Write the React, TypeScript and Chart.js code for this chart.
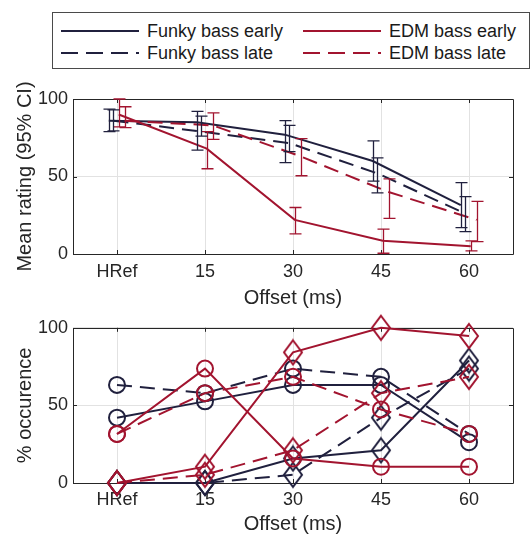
import React, { useEffect, useRef } from 'react';
import { Chart, registerables } from 'chart.js';

Chart.register(...registerables);

// ---------- data ----------
const categories = ['HRef', '15', '30', '45', '60'];
const xPositions = [0, 15, 30, 45, 60];

// top panel: mean ratings with 95% CI
const funkyEarlyMean = [86, 85, 77, 60, 31.5];
const funkyEarlyLow = [79, 67, 59, 47, 17];
const funkyEarlyHigh = [93.5, 92, 86, 73, 46];

const funkyLateMean = [86, 79, 71.5, 52, 26];
const funkyLateLow = [79.5, 76, 66, 39.5, 14.5];
const funkyLateHigh = [93, 89, 83, 62, 37];

const edmEarlyMean = [90, 68, 22, 8.5, 5];
const edmEarlyLow = [82, 55, 13, 0.5, 2];
const edmEarlyHigh = [100, 79, 30, 16, 8.5];

const edmLateMean = [86, 83, 63, 40, 22];
const edmLateLow = [81.5, 74, 50.5, 23, 8];
const edmLateHigh = [95, 91, 74.5, 48.5, 34];

// small horizontal shifts (ms) of each series in the top panel
const funkyEarlyShift = -1.4;
const funkyLateShift = -0.6;
const edmEarlyShift = 0.3;
const edmLateShift = 1.3;

// bottom panel: % occurence
const funkyEarlyCircle = [42.1, 52.6, 63.2, 63.2, 26.3];
const funkyLateCircle = [63.2, 57.9, 73.7, 68.4, 31.6];
const edmEarlyCircle = [31.6, 73.7, 15.8, 10.5, 10.5];
const edmLateCircle = [31.6, 57.9, 68.4, 47.4, 31.6];
const funkyEarlyDiamond = [0, 0, 15.8, 21.1, 78.9];
const funkyLateDiamond = [0, 0, 5.3, 42.1, 73.7];
const edmEarlyDiamond = [0, 10.5, 84.2, 100, 94.7];
const edmLateDiamond = [0, 5.3, 21.1, 57.9, 68.4];

const yTicks = [0, 50, 100];

// ---------- style ----------
const DARK = '#20203e';
const RED = '#a2142f';
const TEXT = '#262626';
const FONT = '"Liberation Sans", Arial, Helvetica, sans-serif';
const DASH = [15, 8];

const pts = (vals: number[], shift = 0) => vals.map((v, i) => ({ x: xPositions[i] + shift, y: v }));

const boxPlugin = {
  id: 'matlabBox',
  beforeDatasetsDraw(chart: any) {
    const { ctx, chartArea: a, scales } = chart;
    ctx.save();
    ctx.strokeStyle = TEXT;
    ctx.lineWidth = 1;
    ctx.beginPath();
    ctx.rect(Math.round(a.left) + 0.5, Math.round(a.top) + 0.5, Math.round(a.right - a.left), Math.round(a.bottom - a.top));
    ctx.stroke();
    ctx.beginPath();
    for (const v of xPositions) {
      const x = Math.round(scales.x.getPixelForValue(v)) + 0.5;
      ctx.moveTo(x, a.bottom);
      ctx.lineTo(x, a.bottom - 4);
      ctx.moveTo(x, a.top);
      ctx.lineTo(x, a.top + 4);
    }
    for (const v of yTicks) {
      const y = Math.round(scales.y.getPixelForValue(v)) + 0.5;
      ctx.moveTo(a.left, y);
      ctx.lineTo(a.left + 4, y);
      ctx.moveTo(a.right, y);
      ctx.lineTo(a.right - 4, y);
    }
    ctx.stroke();
    ctx.restore();
  },
};

const errorBarPlugin = {
  id: 'errorBars',
  afterDatasetsDraw(chart: any) {
    const { ctx, scales } = chart;
    ctx.save();
    chart.data.datasets.forEach((ds: any) => {
      if (!ds.errLow) return;
      ctx.strokeStyle = ds.borderColor;
      ctx.lineWidth = 1.3;
      ctx.setLineDash([]);
      ctx.beginPath();
      ds.data.forEach((p: any, i: number) => {
        const x = Math.round(scales.x.getPixelForValue(p.x)) + 0.5;
        const yl = scales.y.getPixelForValue(ds.errLow[i]);
        const yh = scales.y.getPixelForValue(ds.errHigh[i]);
        ctx.moveTo(x, yl);
        ctx.lineTo(x, yh);
        ctx.moveTo(x - 6, yl);
        ctx.lineTo(x + 6, yl);
        ctx.moveTo(x - 6, yh);
        ctx.lineTo(x + 6, yh);
      });
      ctx.stroke();
    });
    ctx.restore();
  },
};

function makeScales(yTitle: string, xHeight: number, tickPad: number, titlePad: number) {
  return {
    x: {
      type: 'linear',
      min: -7.5,
      max: 67.5,
      afterBuildTicks: (s: any) => {
        s.ticks = xPositions.map((v) => ({ value: v }));
      },
      afterFit: (s: any) => {
        s.height = xHeight;
      },
      ticks: {
        autoSkip: false,
        maxRotation: 0,
        padding: tickPad,
        color: TEXT,
        font: { family: FONT, size: 18 },
        callback: (_v: any, i: number) => categories[i],
      },
      grid: { color: '#e2e2e2', lineWidth: 1, drawTicks: false },
      border: { display: false },
      title: {
        display: true,
        text: 'Offset (ms)',
        color: TEXT,
        font: { family: FONT, size: 20, lineHeight: 1 },
        padding: { top: 0, bottom: titlePad },
      },
    },
    y: {
      type: 'linear',
      min: 0,
      max: 100,
      afterBuildTicks: (s: any) => {
        s.ticks = yTicks.map((v) => ({ value: v }));
      },
      afterFit: (s: any) => {
        s.width = 73;
      },
      ticks: {
        padding: 5,
        color: TEXT,
        font: { family: FONT, size: 18 },
      },
      grid: { color: '#e2e2e2', lineWidth: 1, drawTicks: false },
      border: { display: false },
      title: {
        display: true,
        text: yTitle,
        color: TEXT,
        font: { family: FONT, size: 20, lineHeight: 1 },
        padding: { top: 15, bottom: 0 },
      },
    },
  };
}

function makeDiamond(color: string) {
  const c = document.createElement('canvas');
  c.width = 22;
  c.height = 28;
  const ctx = c.getContext('2d')!;
  ctx.strokeStyle = color;
  ctx.lineWidth = 2;
  ctx.beginPath();
  ctx.moveTo(11, 2);
  ctx.lineTo(20, 14);
  ctx.lineTo(11, 26);
  ctx.lineTo(2, 14);
  ctx.closePath();
  ctx.stroke();
  return c;
}

function TopChart() {
  const ref = useRef<HTMLCanvasElement>(null);
  useEffect(() => {
    const line = (label: string, color: string, dashed: boolean, mean: number[], lo: number[], hi: number[], shift: number) => ({
      label,
      data: pts(mean, shift),
      borderColor: color,
      backgroundColor: color,
      borderWidth: 2,
      borderDash: dashed ? DASH : [],
      pointRadius: 0,
      tension: 0,
      errLow: lo,
      errHigh: hi,
    });
    const chart = new Chart(ref.current!, {
      type: 'line',
      data: {
        datasets: [
          line('EDM bass early', RED, false, edmEarlyMean, edmEarlyLow, edmEarlyHigh, edmEarlyShift),
          line('EDM bass late', RED, true, edmLateMean, edmLateLow, edmLateHigh, edmLateShift),
          line('Funky bass early', DARK, false, funkyEarlyMean, funkyEarlyLow, funkyEarlyHigh, funkyEarlyShift),
          line('Funky bass late', DARK, true, funkyLateMean, funkyLateLow, funkyLateHigh, funkyLateShift),
        ] as any,
      },
      options: {
        animation: false,
        responsive: false,
        layout: { padding: { top: 99, right: 17, left: 0, bottom: 0 } },
        plugins: { legend: { display: false }, tooltip: { enabled: false } },
        scales: makeScales('Mean rating (95% CI)', 58, 7, 4) as any,
      },
      plugins: [boxPlugin, errorBarPlugin],
    });
    return () => chart.destroy();
  }, []);
  return <canvas ref={ref} width={530} height={312} style={{ position: 'absolute', left: 0, top: 0 }} />;
}

function BottomChart() {
  const ref = useRef<HTMLCanvasElement>(null);
  useEffect(() => {
    const darkDiamond = makeDiamond(DARK);
    const redDiamond = makeDiamond(RED);
    const series = (label: string, color: string, dashed: boolean, vals: number[], marker: any) => ({
      label,
      data: pts(vals),
      borderColor: color,
      backgroundColor: 'rgba(0,0,0,0)',
      borderWidth: 2,
      borderDash: dashed ? DASH : [],
      pointStyle: marker,
      pointRadius: 8,
      pointBorderWidth: 2,
      pointBorderColor: color,
      pointBackgroundColor: 'rgba(0,0,0,0)',
      tension: 0,
      clip: false,
    });
    const chart = new Chart(ref.current!, {
      type: 'line',
      data: {
        datasets: [
          series('EDM early diamond', RED, false, edmEarlyDiamond, redDiamond),
          series('EDM early circle', RED, false, edmEarlyCircle, 'circle'),
          series('EDM late diamond', RED, true, edmLateDiamond, redDiamond),
          series('EDM late circle', RED, true, edmLateCircle, 'circle'),
          series('Funky early diamond', DARK, false, funkyEarlyDiamond, darkDiamond),
          series('Funky early circle', DARK, false, funkyEarlyCircle, 'circle'),
          series('Funky late diamond', DARK, true, funkyLateDiamond, darkDiamond),
          series('Funky late circle', DARK, true, funkyLateCircle, 'circle'),
        ] as any,
      },
      options: {
        animation: false,
        responsive: false,
        layout: { padding: { top: 14, right: 17, left: 0, bottom: 0 } },
        plugins: { legend: { display: false }, tooltip: { enabled: false } },
        scales: makeScales('% occurence', 51, 6, 0) as any,
      },
      plugins: [boxPlugin],
    });
    return () => chart.destroy();
  }, []);
  return <canvas ref={ref} width={530} height={222} style={{ position: 'absolute', left: 0, top: 312 }} />;
}

function LegendItem({ x, y, color, dashed, text }: { x: number; y: number; color: string; dashed: boolean; text: string }) {
  return (
    <>
      <svg width={80} height={6} style={{ position: 'absolute', left: x, top: y - 3 }}>
        <line x1={0} y1={3} x2={78} y2={3} stroke={color} strokeWidth={2} strokeDasharray={dashed ? '17 8' : undefined} />
      </svg>
      <div
        style={{
          position: 'absolute',
          left: x + 86,
          top: y - 11,
          height: 22,
          lineHeight: '22px',
          fontFamily: FONT,
          fontSize: 18,
          color: '#1a1a1a',
          whiteSpace: 'nowrap',
        }}
      >
        {text}
      </div>
    </>
  );
}

export default function App() {
  return (
    <div style={{ position: 'absolute', left: 0, top: 0, width: 530, height: 534, background: '#fff', overflow: 'hidden' }}>
      <TopChart />
      <BottomChart />
      <div
        style={{
          position: 'absolute',
          left: 52,
          top: 12,
          width: 478,
          height: 57,
          boxSizing: 'border-box',
          border: '1px solid #4a4a4a',
          background: '#fff',
        }}
      >
        <LegendItem x={8} y={18} color={DARK} dashed={false} text="Funky bass early" />
        <LegendItem x={250} y={18} color={RED} dashed={false} text="EDM bass early" />
        <LegendItem x={8} y={40} color={DARK} dashed={true} text="Funky bass late" />
        <LegendItem x={250} y={40} color={RED} dashed={true} text="EDM bass late" />
      </div>
    </div>
  );
}
